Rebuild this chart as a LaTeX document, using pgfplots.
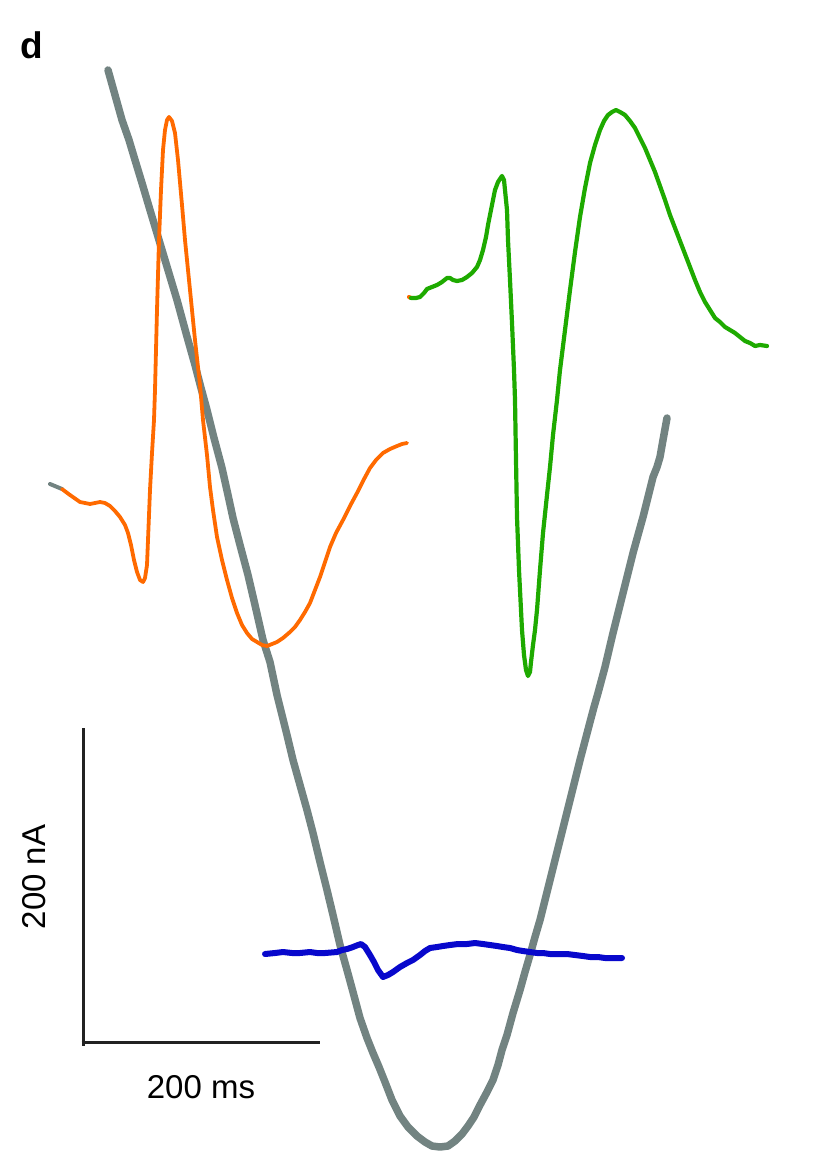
\documentclass[border=0pt]{standalone}
\usepackage{pgfplots}
\pgfplotsset{compat=1.18}
\usepackage{fontspec}
\setmainfont{Liberation Sans}
\definecolor{cgray}{HTML}{728381}
\definecolor{corange}{HTML}{FF6A00}
\definecolor{cgreen}{HTML}{1EAA00}
\definecolor{cblue}{HTML}{0808CC}
\definecolor{cbar}{HTML}{222222}
\begin{document}
\begin{tikzpicture}
\begin{axis}[scale only axis, width=829pt, height=1174pt,
  xmin=0, xmax=829, ymin=0, ymax=1174, y dir=reverse,
  hide axis, clip=false,
  every axis plot/.append style={no markers, line join=round, line cap=round}]
\path (axis cs:0,0) rectangle (axis cs:829,1174);
% gray trace
\addplot[cgray, line width=7.5pt] coordinates {
(108,70)(115,95)(122,120)(129,140)(135,160)(142,183)(150,210)(159,240)(168,270)(177,300)(186,333)(195,365)(201,388)(207,410)(214,438)(222,468)(228,495)(233,518)(240,545)(248,575)(255,605)(263,640)(270,662)(277,695)(282,715)(287,735)(293,760)(300,785)(307,810)(313,833)(320,862)(327,890)(333,915)(340,945)(347,970)(353,992)(360,1018)(367,1038)(373,1053)(379,1067)(385,1082)(392,1100)(400,1116)(408,1127)(417,1136)(425,1142)(432,1146)(440,1147)(448,1146)(455,1141)(462,1134)(468,1126)(474,1117)(480,1105)(487,1092)(493,1080)(498,1065)(502,1050)(507,1035)(513,1013)(520,990)(525,972)(530,955)(535,937)(540,920)(545,900)(550,880)(555,860)(560,840)(565,820)(570,800)(575,780)(580,760)(585,741)(590,722)(594,707)(598,693)(605,667)(609,650)(613,633)(618,613)(623,593)(628,573)(633,553)(638,535)(643,517)(648,497)(653,477)(657,467)(660,457)(663,440)(667,418)};
% orange trace (gray lead-in)
\addplot[cgray, line width=4pt] coordinates {(50,484)(62,489)};
\addplot[corange, line width=3.8pt] coordinates {
(62,489)(70,495)(80,502)(90,504)(100,502)(105,503)(110,506)(115,511)(120,517)(125,525)(128,533)(131,545)(134,560)(137,572)(140,580)(143,582)(145,578)(147,565)(148,540)(150,490)(152,453)(154,420)(155,390)(156,350)(157,310)(158,275)(159,240)(161,190)(163,150)(165,130)(167,120)(169,117)(172,121)(175,133)(178,160)(182,205)(185,240)(190,290)(195,340)(200,385)(203,420)(207,455)(210,487)(213,510)(217,537)(222,560)(227,580)(232,598)(237,613)(242,625)(247,633)(252,639)(257,642)(262,645)(267,646)(272,644)(277,642)(283,638)(290,632)(295,627)(300,620)(305,612)(310,603)(315,590)(320,577)(325,562)(330,547)(336,533)(343,520)(350,506)(357,493)(363,481)(370,468)(376,460)(383,453)(390,449)(397,446)(402,444)(407,443)};
% green trace (orange lead-in)
\addplot[corange, line width=4.2pt] coordinates {(409,297)(411,298)};
\addplot[cgreen, line width=4.2pt] coordinates {
(411,298)(416,298)(420,297)(424,293)(427,289)(432,287)(437,285)(442,282)(447,278)(450,278)(453,280)(457,281)(462,280)(467,277)(472,273)(477,267)(480,260)(483,250)(486,237)(488,225)(490,215)(493,200)(495,190)(498,182)(502,176)(504,180)(505,190)(507,210)(508,240)(510,280)(512,323)(514,370)(515,400)(516,460)(517,517)(519,570)(521,610)(522,630)(524,655)(526,670)(528,676)(530,672)(531,662)(533,645)(535,630)(537,610)(540,570)(543,533)(547,495)(550,467)(553,435)(557,400)(560,370)(565,330)(570,290)(575,252)(580,217)(585,188)(590,163)(595,145)(600,130)(604,121)(608,115)(612,112)(616,110)(620,112)(625,115)(630,121)(635,128)(640,138)(645,148)(650,160)(655,172)(660,186)(665,200)(670,215)(675,228)(680,241)(685,254)(690,267)(695,280)(700,292)(705,302)(710,310)(715,318)(720,322)(725,327)(730,330)(735,333)(740,337)(745,341)(750,343)(755,346)(760,345)(767,346)};
% blue trace
\addplot[cblue, line width=6pt] coordinates {
(265,954)(275,953)(283,952)(292,953)(300,953)(310,952)(317,953)(325,953)(337,952)(342,950)(347,949)(353,947)(358,945)(361,944)(365,947)(370,955)(374,962)(378,970)(383,977)(388,975)(393,972)(400,967)(407,963)(413,960)(420,955)(425,951)(430,948)(437,947)(443,946)(450,945)(458,944)(467,944)(475,943)(483,944)(490,945)(497,946)(503,947)(510,948)(517,950)(523,951)(530,952)(537,953)(543,953)(550,954)(557,954)(567,954)(575,955)(583,956)(590,957)(598,957)(605,958)(613,958)(622,958)};
% scale bars
\addplot[cbar, line width=3pt, line cap=butt] coordinates {(83,728)(83,1046)};
\addplot[cbar, line width=3pt, line cap=butt] coordinates {(81.5,1042)(320,1042)};
\node[font=\fontsize{33}{40}\selectfont, rotate=90] at (axis cs:34,877) {200 nA};
\node[font=\fontsize{33}{40}\selectfont] at (axis cs:201,1087) {200 ms};
\node[font=\fontsize{37}{44}\selectfont\bfseries] at (axis cs:32,45) {d};
\end{axis}
\end{tikzpicture}
\end{document}
